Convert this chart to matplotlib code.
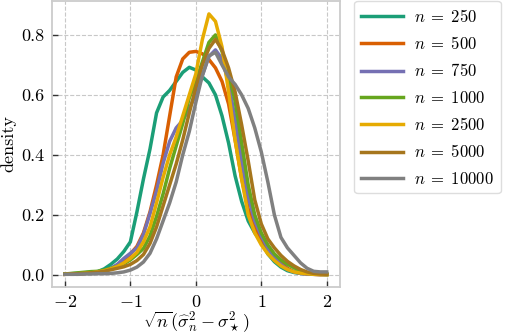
import numpy as np
import matplotlib
matplotlib.use("Agg")
import matplotlib.pyplot as plt

plt.rcParams['font.family'] = 'serif'
plt.rcParams['font.serif'] = ['cmr10']
plt.rcParams['mathtext.fontset'] = 'cm'
plt.rcParams['axes.formatter.use_mathtext'] = True
plt.rcParams['axes.unicode_minus'] = True

# points on the x axis where the densities were read
x = [-2.0, -1.9, -1.8, -1.7, -1.6, -1.5, -1.4, -1.3, -1.2, -1.1, -1.0,
     -0.9, -0.8, -0.7, -0.6, -0.5, -0.4, -0.3, -0.2, -0.1, 0.0,
     0.1, 0.2, 0.3, 0.4, 0.5, 0.6, 0.7, 0.8, 0.9, 1.0,
     1.1, 1.2, 1.3, 1.4, 1.5, 1.6, 1.7, 1.8, 1.9, 2.0]

sample_sizes = [250, 500, 750, 1000, 2500, 5000, 10000]

d250 = [.003, .004, .005, .007, .009, .011, .02, .035, .053, .078, .11,
        .21, .32, .42, .54, .593, .615, .645, .675, .692, .683,
        .66, .64, .6, .53, .44, .33, .245, .18, .14, .11,
        .07, .044, .026, .014, .008, .005, .004, .003, .003, .003]
d500 = [.002, .003, .004, .005, .006, .008, .012, .02, .032, .05, .07,
        .095, .14, .21, .3, .4, .53, .66, .72, .742, .745,
        .737, .718, .69, .645, .57, .45, .32, .22, .16, .12,
        .09, .065, .04, .022, .011, .006, .003, .002, .001, .001]
d750 = [.002, .003, .004, .005, .007, .01, .014, .022, .035, .055, .072,
        .09, .135, .205, .28, .372, .445, .49, .515, .555, .6,
        .665, .728, .75, .72, .64, .52, .38, .26, .18, .13,
        .09, .06, .035, .018, .01, .005, .003, .002, .001, .001]
d1000 = [.003, .005, .007, .009, .011, .012, .016, .022, .028, .037, .05,
         .068, .088, .13, .195, .27, .355, .43, .505, .59, .645,
         .71, .775, .8, .745, .67, .58, .44, .3, .2, .14,
         .1, .07, .05, .035, .024, .013, .006, .003, .002, .001]
d2500 = [.002, .003, .004, .005, .007, .01, .014, .02, .028, .04, .055,
         .075, .11, .16, .24, .325, .4, .46, .53, .6, .67,
         .785, .87, .845, .76, .61, .45, .32, .2, .14, .1,
         .07, .048, .03, .018, .01, .006, .004, .002, .001, .001]
d5000 = [.002, .003, .004, .005, .007, .009, .012, .017, .022, .027, .035,
         .048, .068, .105, .16, .23, .3, .37, .45, .54, .625,
         .7, .755, .785, .75, .69, .61, .5, .38, .25, .17,
         .12, .09, .065, .045, .03, .018, .01, .005, .003, .002]
d10000 = [.002, .002, .002, .003, .003, .004, .004, .005, .007, .01, .016,
          .026, .043, .072, .12, .18, .24, .31, .4, .478, .575,
          .665, .73, .742, .7, .66, .635, .6, .555, .49, .41,
          .31, .2, .125, .09, .065, .04, .022, .012, .01, .01]

densities = [d250, d500, d750, d1000, d2500, d5000, d10000]
colors = ['#1b9e77', '#d95f02', '#7570b3', '#66a61e', '#e6ab02', '#a6761d', '#808080']

fig = plt.figure(figsize=(5.08, 3.34), dpi=100)
ax = fig.add_axes([0.102, 0.141, 0.567, 0.856])

for n, d, c in zip(sample_sizes, densities, colors):
    ax.plot(x, d, color=c, lw=2.5, label=r"$n\;=\;%d$" % n)

ax.set_xlim(-2.2, 2.2)
ax.set_ylim(-0.04, 0.913)
ax.set_xticks([-2, -1, 0, 1, 2])
ax.set_yticks([0.0, 0.2, 0.4, 0.6, 0.8])
ax.set_yticklabels(["0.0", "0.2", "0.4", "0.6", "0.8"])
ax.grid(True, ls='--', color='#c8c8c8', lw=0.8)
ax.set_axisbelow(True)
for s in ax.spines.values():
    s.set_color('#cccccc')
    s.set_linewidth(1.3)
ax.tick_params(direction='in', length=4, width=1, color='#333333', labelsize=13, pad=5)

ax.set_xlabel(r"$\sqrt{n}(\widehat{\sigma}_n^2 - \sigma_\star^2)$", fontsize=13, labelpad=0)
ax.set_ylabel("density", fontsize=13, labelpad=4)

ax.legend(loc='upper left', bbox_to_anchor=(1.05, 1.0), fontsize=12, handlelength=2.5,
          handletextpad=0.7, labelspacing=0.62, borderaxespad=0.0, edgecolor='#dddddd',
          fancybox=True, framealpha=1.0)

fig.savefig("out.png", dpi=100)
